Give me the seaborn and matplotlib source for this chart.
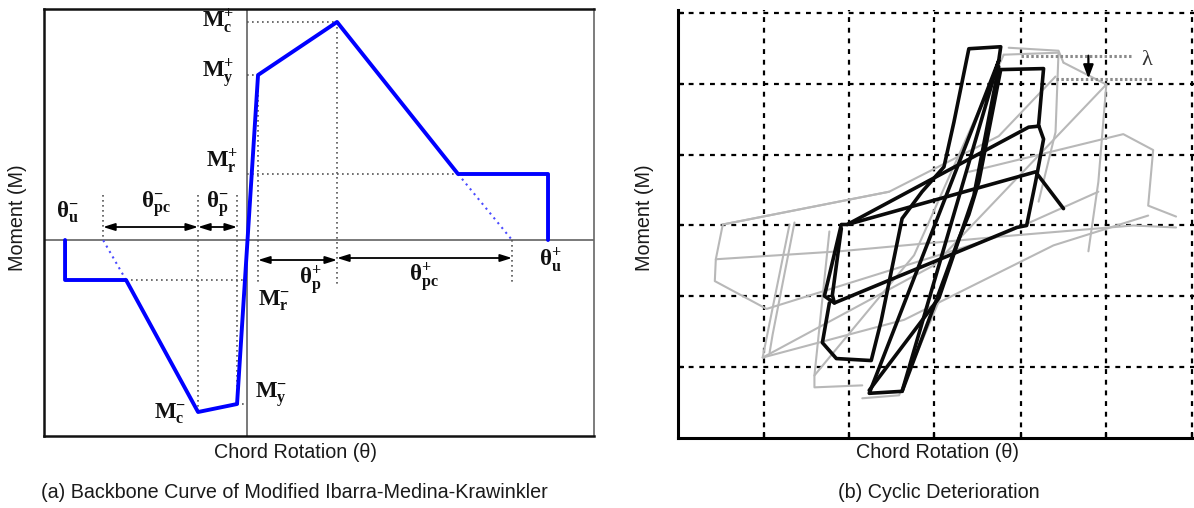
import numpy as np
import pandas as pd
import matplotlib
matplotlib.use("Agg")
import matplotlib.pyplot as plt
import seaborn as sns

# ---------------- data (arbitrary schematic units) -------------
# (a) backbone curve: chord rotation theta vs moment M
bb_theta = [-182, -182, -121, -49, -10, 11, 90, 211, 301, 301]
bb_moment = [0, -40, -40, -172, -164, 165, 218, 66, 66, 0]
# dotted extensions of the degrading branches to M = 0
ext_neg_theta = [-121, -144]
ext_neg_moment = [-40, 0]
ext_pos_theta = [211, 265]
ext_pos_moment = [66, 0]

# (b) cyclic deterioration: black (current) and grey (earlier) hysteresis traces
black_paths = {
    "loop2": ([67, 110, 105, 110, 102, 93, 83, -100, -110, -93, -87, 95, 105],
              [157, 158, 101, 87, 44, 0, -2, -78, -71, 1, 1, 99, 100]),
    "tall": ([65, -65, -32, 65, 67, 35, 20, 10, -12, -32, -53, -63, -98, -112, -105],
             [166, -169, -167, 166, 180, 178, 104, 59, 34, 7, -96, -136, -134, -118, -78]),
    "s_edge": ([67, 45, 35, 25, 2, -32],
               [157, 44, 11, -13, -76, -167]),
    "inner": ([-65, 5, 40, 65],
              [-166, -73, 30, 160]),
    "left_edge": ([-93, -102, -100],
                  [-3, -70, -78]),
    "last": ([-87, 102, 130],
             [1, 54, 17]),
}
grey_paths = {
    "a": ([-45, -212, -219, -220, -168, 65, 165],
          [34, 1, -34, -56, -84, -11, 34]),
    "b": ([-219, -95, 80, 200, 243],
          [-34, -26, -10, 0, -2]),
    "c": ([-145, -168, -172, -30, 120, 215],
          [1, -113, -133, -95, -20, 10]),
    "d": ([-105, -120, -120, -72],
          [-6, -151, -163, -161]),
    "e": ([-72, -35, 5],
          [-174, -171, -76]),
    "f": ([70, 125, 122, 105],
          [172, 174, 94, 24]),
    "g": ([130, 173, 165, 155],
          [164, 142, 44, -26]),
    "h": ([35, 190, 220, 215, 243],
          [54, 92, 76, 20, 9]),
    "i": ([-120, -20, 70],
          [-151, -30, 172]),
    "j": ([-172, 0, 173],
          [-133, -40, 142]),
    "k": ([-212, -45, 65, 122],
          [1, 34, 90, 150]),
    "top": ([75, 125, 130],
            [179, 176, 164]),
    "left2": ([-140, -162, -165],
              [3, -110, -128]),
}
lambda_top_theta = [87, 200]
lambda_top_moment = [171, 171]
lambda_bot_theta = [122, 220]
lambda_bot_moment = [148, 148]

# ---------------- style ----------------
sns.set_style("white")
plt.rcParams["font.family"] = ["Liberation Sans", "DejaVu Sans"]
plt.rcParams["mathtext.fontset"] = "custom"
plt.rcParams["mathtext.rm"] = "Liberation Serif"
plt.rcParams["mathtext.bf"] = "Liberation Serif:bold"
plt.rcParams["mathtext.it"] = "Liberation Serif:italic"

fig = plt.figure(figsize=(11.94, 5.08), dpi=100)
axL = fig.add_axes([0.0369, 0.1417, 0.4606, 0.8406])
axR = fig.add_axes([0.5678, 0.1378, 0.4322, 0.8425])

# ---------------- (a) backbone ----------------
axL.axhline(0, color="#555555", lw=1.1, zorder=1)
axL.axvline(0, color="#555555", lw=1.1, zorder=1)

dot = dict(color="#555555", lw=1.2, linestyle=(0, (1, 2)), zorder=1)
axL.plot([0, 90], [218, 218], **dot)
axL.plot([90, 90], [218, -45], **dot)
axL.plot([0, 11], [165, 165], **dot)
axL.plot([11, 11], [165, -45], **dot)
axL.plot([0, 211], [66, 66], **dot)
axL.plot([265, 265], [0, -43], **dot)
axL.plot([-144, -144], [45, 0], **dot)
axL.plot([-49, -49], [45, -172], **dot)
axL.plot([-10, -10], [45, -164], **dot)
axL.plot([-121, 0], [-40, -40], **dot)
axL.plot([-10, 0], [-164, -164], **dot)

sns.lineplot(x=ext_neg_theta, y=ext_neg_moment, ax=axL, color="#4b4bff", lw=1.5,
             linestyle=(0, (1, 2)), sort=False, estimator=None)
sns.lineplot(x=ext_pos_theta, y=ext_pos_moment, ax=axL, color="#4b4bff", lw=1.5,
             linestyle=(0, (1, 2)), sort=False, estimator=None)
sns.lineplot(x=bb_theta, y=bb_moment, ax=axL, color="#0000ff", lw=2.8,
             sort=False, estimator=None, zorder=3)

arrow = dict(arrowstyle="<|-|>,head_length=0.7,head_width=0.22", color="black",
             lw=1.3, shrinkA=0, shrinkB=0)
for (a, b, m) in [(-144, -49, 13), (-49, -10, 13), (11, 90, -20), (90, 265, -18)]:
    axL.annotate("", xy=(b, m), xytext=(a, m), arrowprops=arrow)

labels = [
    (r"$\mathbf{M}_{\mathbf{c}}^{\mathbf{+}}$", -13, 212, "right"),
    (r"$\mathbf{M}_{\mathbf{y}}^{\mathbf{+}}$", -13, 162, "right"),
    (r"$\mathbf{M}_{\mathbf{r}}^{\mathbf{+}}$", -9, 72, "right"),
    (r"$\mathbf{M}_{\mathbf{r}}^{\mathbf{-}}$", 11, -65, "left"),
    (r"$\mathbf{M}_{\mathbf{y}}^{\mathbf{-}}$", 8, -157, "left"),
    (r"$\mathbf{M}_{\mathbf{c}}^{\mathbf{-}}$", -93, -178, "left"),
    (r"$\mathbf{θ}_{\mathbf{u}}^{\mathbf{-}}$", -191, 23, "left"),
    (r"$\mathbf{θ}_{\mathbf{pc}}^{\mathbf{-}}$", -106, 33, "left"),
    (r"$\mathbf{θ}_{\mathbf{p}}^{\mathbf{-}}$", -41, 33, "left"),
    (r"$\mathbf{θ}_{\mathbf{p}}^{\mathbf{+}}$", 52, -45, "left"),
    (r"$\mathbf{θ}_{\mathbf{pc}}^{\mathbf{+}}$", 162, -42, "left"),
    (r"$\mathbf{θ}_{\mathbf{u}}^{\mathbf{+}}$", 292, -27, "left"),
]
for txt, t, m, ha in labels:
    axL.text(t, m, txt, ha=ha, va="baseline", fontsize=16.5, color="#111111")

axL.set_xlim(-203, 347)
axL.set_ylim(-196, 231)
axL.set_xticks([])
axL.set_yticks([])
axL.set_xlabel("")
axL.set_ylabel("")
for s in axL.spines.values():
    s.set_visible(True)
    s.set_color("#111111")
    s.set_linewidth(1.8)
axL.spines["right"].set_color("#666666")
axL.spines["right"].set_linewidth(1.2)

# ---------------- (b) cyclic deterioration ----------------
rows = []
for name, (t, m) in grey_paths.items():
    for i, (a, b) in enumerate(zip(t, m)):
        rows.append(dict(path=name, order=i, theta=a, moment=b))
df_grey = pd.DataFrame(rows)
rows = []
for name, (t, m) in black_paths.items():
    for i, (a, b) in enumerate(zip(t, m)):
        rows.append(dict(path=name, order=i, theta=a, moment=b))
df_black = pd.DataFrame(rows)

sns.lineplot(data=df_grey, x="theta", y="moment", units="path", estimator=None,
             sort=False, color="#b8b8b8", lw=1.5, ax=axR, zorder=2)
sns.lineplot(data=df_black, x="theta", y="moment", units="path", estimator=None,
             sort=False, color="#0a0a0a", lw=2.6, ax=axR, zorder=3)

ldot = dict(color="#8a8a8a", lw=2.2, linestyle=(0, (0.8, 0.8)), zorder=4)
axR.plot(lambda_top_theta, lambda_top_moment, **ldot)
axR.plot(lambda_bot_theta, lambda_bot_moment, **ldot)
axR.annotate("", xy=(155, 148), xytext=(155, 171),
             arrowprops=dict(arrowstyle="-|>,head_length=0.8,head_width=0.3",
                             color="black", lw=1.6, shrinkA=0, shrinkB=0), zorder=5)
axR.text(208, 162, "λ", fontsize=16, color="#333333", ha="left", va="baseline",
         family=["Liberation Serif", "DejaVu Serif"])

axR.set_xlim(-257, 261)
axR.set_ylim(-214, 217)
axR.set_xticks([-171, -85, 0, 87, 173, 259])
axR.set_yticks([-143, -71, 0, 71, 142, 214])
axR.set_xticklabels([])
axR.set_yticklabels([])
axR.set_xlabel("")
axR.set_ylabel("")
axR.grid(True, color="black", linestyle=(0, (2.2, 2.6)), lw=1.6)
axR.set_axisbelow(True)
axR.tick_params(axis="both", direction="in", length=4, width=1.6, color="black",
                bottom=True, left=True, top=False, right=False)
axR.spines["top"].set_visible(False)
axR.spines["right"].set_visible(False)
for s in ["left", "bottom"]:
    axR.spines[s].set_visible(True)
    axR.spines[s].set_color("black")
    axR.spines[s].set_linewidth(2.2)

# ---------------- axis titles and captions ----------------
tcol = "#1a1a1a"
fs = 14.2
fig.text(296 / 1194, 1 - 453 / 508, "Chord Rotation (θ)", ha="center", va="center",
         fontsize=fs, color=tcol)
fig.text(937 / 1194, 1 - 453 / 508, "Chord Rotation (θ)", ha="center", va="center",
         fontsize=fs, color=tcol)
fig.text(18 / 1194, 1 - 218 / 508, "Moment (M)", ha="center", va="center",
         rotation=90, fontsize=fs, color=tcol)
fig.text(645 / 1194, 1 - 218 / 508, "Moment (M)", ha="center", va="center",
         rotation=90, fontsize=fs, color=tcol)
fig.text(294 / 1194, 1 - 493 / 508,
         "(a) Backbone Curve of Modified Ibarra-Medina-Krawinkler",
         ha="center", va="center", fontsize=fs, color=tcol)
fig.text(939 / 1194, 1 - 493 / 508, "(b) Cyclic Deterioration",
         ha="center", va="center", fontsize=fs, color=tcol)

fig.savefig("out.png", dpi=100, facecolor="white")
